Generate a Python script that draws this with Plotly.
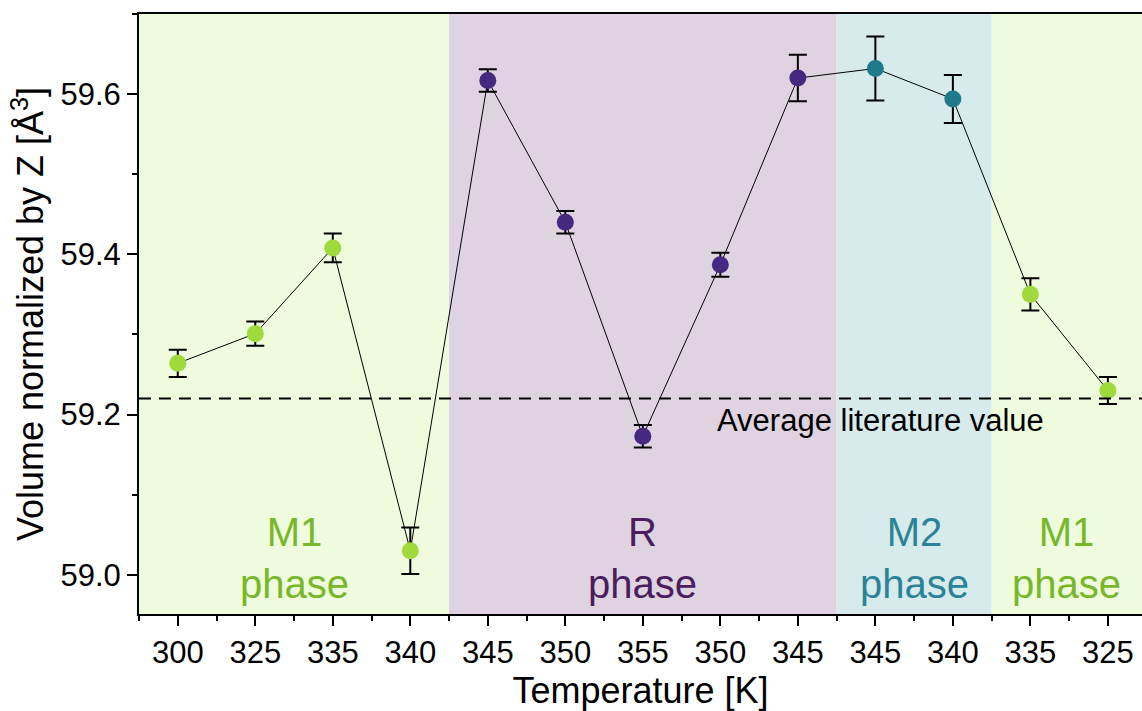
import plotly.graph_objects as go

tick_labels = ["300", "325", "335", "340", "345", "350", "355", "350", "345", "345", "340", "335", "325"]
volume = [59.264, 59.301, 59.408, 59.030, 59.617, 59.440, 59.173, 59.387, 59.620, 59.632, 59.594, 59.350, 59.230]
volume_err = [0.017, 0.015, 0.018, 0.029, 0.014, 0.014, 0.014, 0.015, 0.029, 0.040, 0.030, 0.020, 0.017]
phases = ["M1", "M1", "M1", "M1", "R", "R", "R", "R", "R", "M2", "M2", "M1", "M1"]
literature_value = 59.22

phase_marker = {"M1": "#9FD93B", "R": "#45287F", "M2": "#1F7A8C"}
phase_text = {"M1": "#78B62A", "R": "#4A1D5C", "M2": "#2A8496"}
phase_bg = {"M1": "#EEFBDC", "R": "#DFD2E1", "M2": "#D7EBEC"}

x = list(range(len(tick_labels)))
x_min, x_max = -0.5, 12.44
y_min, y_max = 58.951, 59.70
FONT = "Liberation Sans, Arial"

fig = go.Figure()

# phase background spans
segments = []
start = 0
for i in range(1, len(phases) + 1):
    if i == len(phases) or phases[i] != phases[start]:
        segments.append((phases[start], start, i - 1))
        start = i
for ph, a, b in segments:
    x0 = max(a - 0.5, x_min)
    x1 = min(b + 0.5, x_max)
    fig.add_shape(type="rect", xref="x", yref="y", x0=x0, x1=x1, y0=y_min, y1=y_max,
                  fillcolor=phase_bg[ph], line_width=0, layer="below")
    cx = (x0 + x1) / 2
    fig.add_annotation(x=cx, y=59.0, xref="x", yref="y", yanchor="middle",
                       text=ph + "<br>phase", showarrow=False,
                       font=dict(family=FONT, size=40, color=phase_text[ph]),
                       yshift=17, align="center")

# literature line
fig.add_shape(type="line", xref="x", yref="y", x0=x_min, x1=x_max,
              y0=literature_value, y1=literature_value,
              line=dict(color="black", width=2, dash="12px,8px"))
fig.add_annotation(x=9.07, y=literature_value, xref="x", yref="y", text="Average literature value",
                   showarrow=False, yshift=-22,
                   font=dict(family=FONT, size=31, color="black"))

fig.add_trace(go.Scatter(
    x=x, y=volume, mode="lines+markers",
    line=dict(color="black", width=1),
    marker=dict(size=17, color=[phase_marker[p] for p in phases], line=dict(width=0)),
    error_y=dict(type="data", array=volume_err, visible=True, color="black", thickness=2, width=9),
    showlegend=False,
))

axis_font = dict(family=FONT, size=31, color="black")
fig.update_layout(
    width=1142, height=711,
    margin=dict(l=139, r=0, t=14, b=97),
    paper_bgcolor="white", plot_bgcolor="white",
    font=axis_font,
    xaxis=dict(
        range=[x_min, x_max], tickvals=x, ticktext=tick_labels, automargin=False,
        showgrid=False, zeroline=False, showline=True, linecolor="black", linewidth=2, mirror=True,
        ticks="outside", ticklen=10, tickwidth=2, tickcolor="black",
        minor=dict(tickvals=[i + 0.5 for i in range(-1, 13)], ticks="outside", ticklen=5, tickwidth=2, tickcolor="black"),
        tickfont=axis_font,
        title=dict(text="Temperature [K]", font=dict(family=FONT, size=36), standoff=6),
    ),
    yaxis=dict(
        range=[y_min, y_max], tickvals=[59.0, 59.2, 59.4, 59.6], ticktext=["59.0", "59.2", "59.4", "59.6"],
        automargin=False,
        showgrid=False, zeroline=False, showline=True, linecolor="black", linewidth=2, mirror=False,
        ticks="outside", ticklen=10, tickwidth=2, tickcolor="black",
        minor=dict(tickvals=[59.1, 59.3, 59.5, 59.7], ticks="outside", ticklen=5, tickwidth=2, tickcolor="black"),
        tickfont=axis_font,
        title=dict(text="Volume normalized by Z [Å<sup>3</sup>]", font=dict(family=FONT, size=36), standoff=6),
    ),
)

fig.write_html("out.html", config={"displayModeBar": False},
               post_script="document.body.style.margin='0';document.body.style.overflow='hidden';")
